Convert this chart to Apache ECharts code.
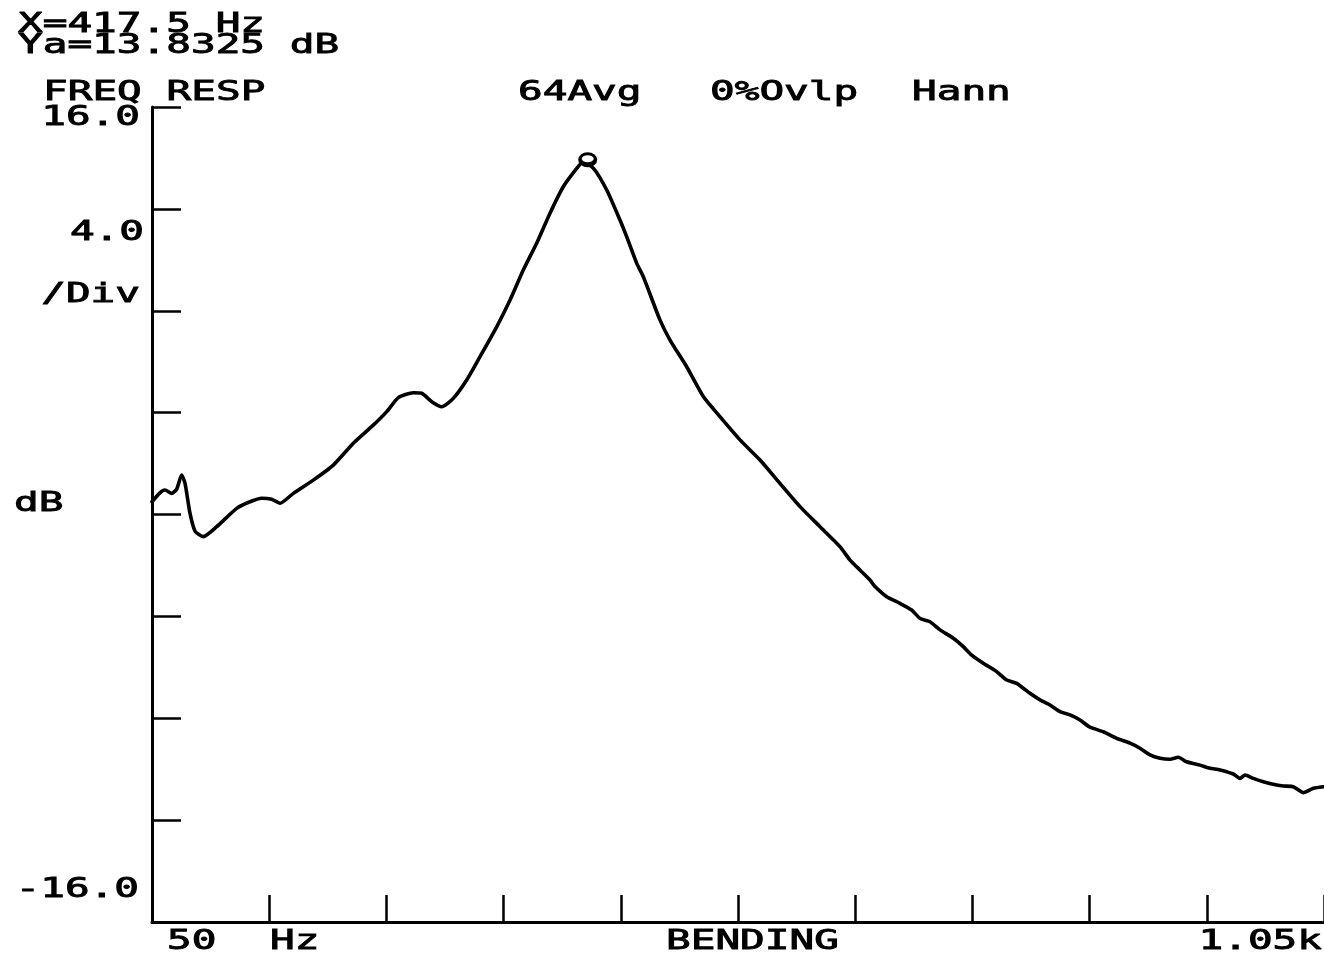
<!DOCTYPE html>
<html>
<head>
<meta charset="utf-8">
<script src="https://cdn.jsdelivr.net/npm/echarts@6/dist/echarts.min.js"></script>
<style>
  html, body { margin: 0; padding: 0; background: #fff; }
  #freqResp { width: 1324px; height: 958px; }
</style>
</head>
<body>
<div id="freqResp"></div>
<script>
// 频响曲线数据 (Hz, dB)
const freqHz = [
  50, 56.8, 61.1, 66.8, 71.1, 75.3, 78.2, 82.4, 86.7, 93.8,
  105.2, 122.3, 133.6, 143.6, 152.1, 159.2, 170.6, 187.6, 204.7, 221.8,
  238.8, 250.3, 260.2, 273.0, 280.1, 288.7, 297.2, 307.1, 318.5, 329.9,
  344.1, 355.5, 366.8, 378.2, 389.6, 400.9, 412.4, 417.5, 426.5, 438.0,
  449.3, 455.0, 463.6, 469.2, 483.4, 492.0, 506.2, 520.4, 534.6, 551.7,
  568.8, 585.8, 602.9, 620.0, 637.0, 645.6, 654.1, 662.6, 666.9, 676.9,
  688.2, 698.2, 705.3, 713.8, 722.4, 733.7, 742.2, 749.4, 759.3, 770.7,
  779.3, 787.8, 799.1, 807.7, 816.2, 824.7, 833.3, 841.8, 850.3, 861.7,
  873.1, 884.5, 893.0, 901.5, 910.1, 918.6, 925.7, 932.8, 944.2, 952.7,
  961.3, 972.6, 978.3, 982.6, 989.7, 998.2, 1009.6, 1015.3, 1023.8, 1032.3,
  1040.9, 1049.4
];
const respDb = [
  0.50, 0.85, 0.96, 0.83, 1.00, 1.55, 1.22, 0.05, -0.65, -0.87,
  -0.48, 0.24, 0.50, 0.64, 0.60, 0.44, 0.83, 1.35, 1.94, 2.80,
  3.51, 4.04, 4.59, 4.78, 4.76, 4.43, 4.23, 4.56, 5.28, 6.20,
  7.37, 8.42, 9.60, 10.65, 11.83, 12.87, 13.59, 13.83, 13.60, 12.74,
  11.56, 10.91, 9.86, 9.34, 7.64, 6.85, 5.80, 4.63, 3.84, 2.93,
  2.14, 1.22, 0.31, -0.48, -1.26, -1.79, -2.18, -2.57, -2.83, -3.23,
  -3.49, -3.75, -4.08, -4.21, -4.53, -4.86, -5.19, -5.52, -5.84, -6.17,
  -6.50, -6.63, -7.02, -7.28, -7.48, -7.74, -7.87, -8.07, -8.35, -8.53,
  -8.79, -8.98, -9.18, -9.44, -9.57, -9.61, -9.53, -9.71, -9.84, -9.96,
  -10.03, -10.19, -10.36, -10.23, -10.36, -10.49, -10.62, -10.66, -10.69, -10.92,
  -10.75, -10.69
];
// 光标
const markerFreq = 417.5;
const markerDb = 13.8325;
// 坐标范围
const freqStart = 50;
const freqEnd = 1050;
const freqStep = 100;
const dbMin = -16;
const dbMax = 16;
const dbStep = 4;
// 文字
const headerLines = ['X=417.5 Hz', 'Ya=13.8325 dB'];
const titleTexts = ['FREQ RESP', '64Avg', '0%Ovlp', 'Hann'];
const yLabels = ['16.0', '4.0', '/Div', 'dB', '-16.0'];
const xLabels = ['50', 'Hz', 'BENDING', '1.05k'];

let myChart = echarts.init(document.getElementById('freqResp'));

// x轴从0开始计数，刻度落在 50,150,...,1050
let lineData = freqHz.map((f, i) => [f - freqStart, respDb[i]]);
let markerData = [[markerFreq - freqStart, markerDb]];

const FONT = '27px "DejaVu Sans Mono"';
const SX = 1.52;
function txt(str, x, y, align) {
  return {
    type: 'text',
    x: x,
    y: y,
    scaleX: SX,
    silent: true,
    style: {
      text: str,
      font: FONT,
      fill: '#000',
      stroke: '#000',
      lineWidth: 0.9,
      textAlign: align || 'left',
      textVerticalAlign: 'middle'
    }
  };
}

let option = {
  backgroundColor: '#fff',
  animation: false,
  grid: {
    left: 152,
    right: 0,
    top: 107,
    bottom: 36
  },
  xAxis: {
    type: 'value',
    min: 0,
    max: freqEnd - freqStart,
    interval: freqStep,
    axisLine: { show: true, onZero: false, lineStyle: { color: '#000', width: 3 } },
    axisTick: { show: true, inside: true, length: 27, lineStyle: { color: '#000', width: 2.5 } },
    axisLabel: { show: false },
    splitLine: { show: false }
  },
  yAxis: {
    type: 'value',
    min: dbMin,
    max: dbMax,
    interval: dbStep,
    axisLine: { show: true, onZero: false, lineStyle: { color: '#000', width: 3 } },
    axisTick: { show: true, inside: true, length: 29, lineStyle: { color: '#000', width: 2.5 } },
    axisLabel: { show: false },
    splitLine: { show: false }
  },
  series: [{
    type: 'line',
    data: lineData,
    showSymbol: false,
    smooth: 0.2,
    lineStyle: { color: '#000', width: 3.6, join: 'round', cap: 'round' }
  }, {
    // 光标 "O"：外圈
    type: 'scatter',
    data: markerData,
    symbol: 'circle',
    symbolSize: [19, 15],
    symbolOffset: [5, -2.5],
    itemStyle: { color: '#000', opacity: 1 },
    z: 3
  }, {
    // 光标 "O"：内圈
    type: 'scatter',
    data: markerData,
    symbol: 'circle',
    symbolSize: [12, 7],
    symbolOffset: [5, -3.5],
    itemStyle: { color: '#fff', opacity: 1 },
    z: 4
  }],
  graphic: [
    txt(headerLines[0], 18, 25),
    txt(headerLines[1], 18, 46),
    txt(titleTexts[0], 43, 93),
    txt(titleTexts[1], 518, 93),
    txt(titleTexts[2], 710, 93),
    txt(titleTexts[3], 912, 93),
    txt(yLabels[0], 140, 118, 'right'),
    txt(yLabels[1], 144, 233, 'right'),
    txt(yLabels[2], 140, 295, 'right'),
    txt(yLabels[3], 14, 504),
    txt(yLabels[4], 139, 890, 'right'),
    txt(xLabels[0], 167, 942),
    txt(xLabels[1], 270, 942),
    txt(xLabels[2], 666, 942),
    txt(xLabels[3], 1322, 942, 'right')
  ]
};
myChart.setOption(option);
</script>
</body>
</html>
